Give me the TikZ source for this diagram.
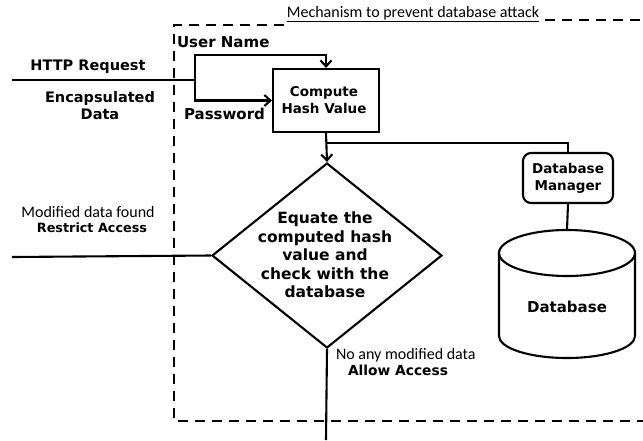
\documentclass[tikz,border=0pt]{standalone}
\usepackage{fontspec}
\setmainfont{DejaVu Sans}
\newfontfamily\calib{Carlito}
\usetikzlibrary{arrows.meta,shapes.geometric}
\begin{document}
\begin{tikzpicture}[x=1pt,y=-1pt,line width=2.1pt,
  >={Straight Barb[length=6pt,width=11pt]},
  dashbox/.style={line width=1.7pt,dash pattern=on 10pt off 7pt},
  bl/.style={font=\bfseries\fontsize{#1}{17}\selectfont,inner sep=0pt,align=center},
  bl/.default=14,
  rl/.style={font=\calib\fontsize{#1}{18}\selectfont,inner sep=0pt,align=center},
  rl/.default=15.5,
  boxstyle/.style={draw,line width=2.1pt,inner sep=0pt}]
\useasboundingbox (0,0) rectangle (643,440);

% dashed frame
\draw[dashbox] (284,25) -- (174,25) -- (174,421) -- (643,421);
\draw[dashbox] (545,20) -- (641,20);
\node[rl=16] (title) at (413,14) {\underline{Mechanism to prevent database attack}};

% nodes
\node[boxstyle,minimum width=106pt,minimum height=63pt] (comp) at (326,100.5) {};
\node[bl=13.5] (comptxt) at (324,100) {Compute\\Hash Value};
\node[draw,diamond,line width=2.1pt,inner sep=0pt,minimum width=230pt,minimum height=185pt] (dia) at (327,255.5) {};
\node[inner sep=0pt,align=center,font=\bfseries\fontsize{15.5}{18.5}\selectfont] (diatxt) at (325,255) {Equate the\\computed hash\\value and\\check with the\\database};
\node[boxstyle,rounded corners=8pt,minimum width=90pt,minimum height=50pt] (dbm) at (568,178) {};
\node[bl=13.5] (dbmtxt) at (568,178) {Database\\Manager};

% database cylinder
\draw (499,253) -- (499,336) arc[start angle=180,end angle=360,x radius=68pt,y radius=22pt] -- (635,253);
\draw (567,253) ellipse [x radius=68pt,y radius=23pt];
\coordinate (dbtop) at (567,230);
\node[bl=15] (dbtxt) at (567,307) {Database};

% labels
\node[bl=14.5] (http) at (88,67) {HTTP Request};
\node[inner sep=0pt,align=center,font=\bfseries\fontsize{14.5}{17}\selectfont] (encap) at (100,106) {Encapsulated\\Data};
\node[bl=15,anchor=west] (user) at (176,42) {User Name};
\node[bl=15,anchor=west] (pass) at (183,114) {Password};
\node[rl=16] (mod) at (88,212) {Modified data found};
\node[bl=12.8] (restr) at (92,228) {Restrict Access};
\node[rl=16,anchor=west] (noany) at (335,355) {No any modified data};
\node[bl=13.8] (allow) at (398,370) {Allow Access};

% connectors
\coordinate (httpL) at (12,80);
\coordinate (split) at (195,80);
\coordinate (ut) at (326,55);
\coordinate (jn) at (326,143);
\coordinate (restrL) at (12,257);
\coordinate (outB) at (326,440);
\draw (httpL) -- (split);
\draw[->] (split) |- (ut) -- (comp.north);
\draw[->] (split) |- (comp.west);
\draw[->] (comp.south) -- (dia.north);
\draw (jn) -| (dbm.north);
\draw (dbm.south) -- (dbtop);
\draw (dia.west) -- (restrL);
\draw (dia.south) -- (outB);
\end{tikzpicture}
\end{document}
